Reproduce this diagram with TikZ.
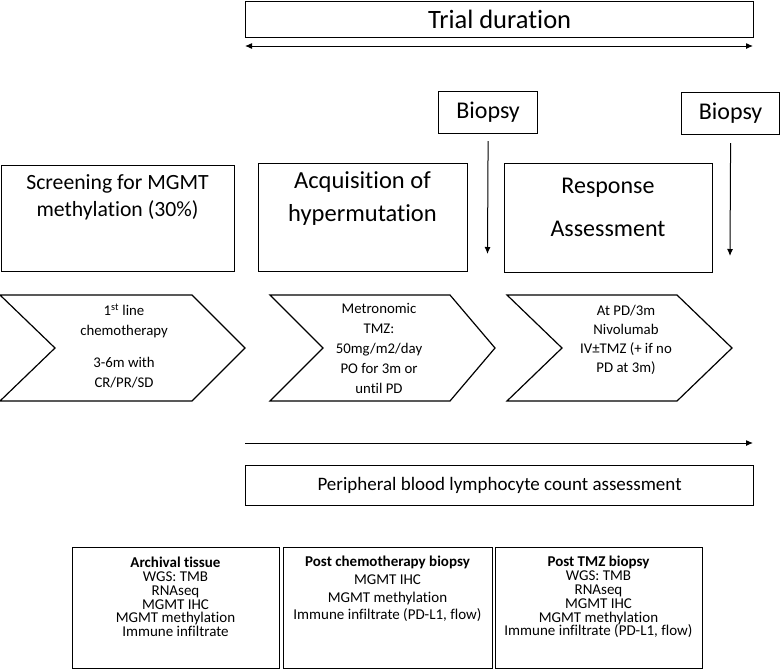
\documentclass[tikz,border=0pt]{standalone}
\usepackage{fontspec}
\setmainfont{Carlito}[Ligatures={NoCommon,NoContextual},Contextuals={NoAlternate}]
\usetikzlibrary{arrows.meta}
\begin{document}
\begin{tikzpicture}[x=1pt,y=-1pt,
  frame/.style={draw, line width=1.2pt, inner sep=0pt, anchor=north west},
  thinline/.style={line width=1pt},
  arr/.style={thinline, -{Latex[length=7pt,width=6pt]}},
  dblarr/.style={thinline, {Latex[length=7pt,width=6pt]}-{Latex[length=7pt,width=6pt]}},
  chev/.style={draw, line width=1.2pt, line join=miter},
  chevtext/.style={align=center, font=\fontsize{14.8}{20}\selectfont, inner sep=0pt},
  smalltext/.style={align=center, inner sep=0pt}]
\useasboundingbox (0,0) rectangle (780,670);

% Trial duration
\node[frame, minimum width=508pt, minimum height=36pt, font=\fontsize{26.5}{30}\selectfont] (trial) at (245,1) {Trial duration};
\coordinate (tl) at (245,46);
\coordinate (tr) at (753,46);
\draw[dblarr] (tl) -- (tr);

% Biopsy boxes
\node[frame, minimum width=99pt, minimum height=42pt, font=\fontsize{24}{28}\selectfont] (bio1) at (438,91) {Biopsy};
\node[frame, minimum width=98pt, minimum height=42pt, font=\fontsize{24}{28}\selectfont] (bio2) at (681,92) {Biopsy};
\coordinate (b1e) at (487.5,254);
\coordinate (b2e) at (730,256);
\draw[arr] ([yshift=-7pt]bio1.south) -- (b1e);
\draw[arr] ([yshift=-8pt]bio2.south) -- (b2e);

% Phase boxes
\node[frame, minimum width=233pt, minimum height=106pt] (scr) at (1,165) {};
\node[frame, minimum width=209pt, minimum height=108pt] (acq) at (258,163) {};
\node[frame, minimum width=208pt, minimum height=109pt] (resp) at (504,163) {};
\node[align=center, inner sep=0pt, font=\fontsize{21.7}{27}\selectfont] (scrt) at (117.5,197) {Screening for MGMT\\methylation (30\%)};
\node[align=center, inner sep=0pt, font=\fontsize{24.5}{33}\selectfont] (acqt) at (362.5,199) {Acquisition of\\hypermutation};
\node[align=center, inner sep=0pt, font=\fontsize{24}{29}\selectfont] (respt) at (608,207) {Response\\[14pt]Assessment};

% Chevrons
\draw[chev] (0,295) -- (192,295) -- (245,348) -- (192,401) -- (0,401) -- (55,348) -- cycle;
\draw[chev] (270,295) -- (450,295) -- (495,348) -- (450,401) -- (270,401) -- (323,348) -- cycle;
\draw[chev] (507,295) -- (677,295) -- (732,348) -- (677,401) -- (507,401) -- (562,348) -- cycle;
\node[chevtext] (c1t) at (124,346) {1\textsuperscript{st} line\\chemotherapy\\[12pt]3-6m with\\CR/PR/SD};
\node[chevtext] (c2t) at (379,348) {Metronomic\\TMZ:\\50mg/m2/day\\PO for 3m or\\until PD};
\node[chevtext, font=\fontsize{14.8}{19}\selectfont] (c3t) at (626,340) {At PD/3m\\Nivolumab\\IV±TMZ (+ if no\\PD at 3m)};

% Blood arrow and box
\coordinate (pl) at (245,443);
\coordinate (pr) at (753,443);
\draw[arr] (pl) -- (pr);
\node[frame, minimum width=508pt, minimum height=40pt, font=\fontsize{19}{23}\selectfont] (pbl) at (245,465) {Peripheral blood lymphocyte count assessment};

% Bottom boxes
\node[frame, minimum width=207pt, minimum height=121pt] (arch) at (72,547) {};
\node[frame, minimum width=209pt, minimum height=121pt] (post) at (283,547) {};
\node[frame, minimum width=207pt, minimum height=121pt] (ptmz) at (495,547) {};
\node[smalltext, font=\fontsize{15}{13.8}\selectfont] (archt) at (175.5,597) {\textbf{Archival tissue}\\WGS: TMB\\RNAseq\\MGMT IHC\\MGMT methylation\\Immune infiltrate};
\node[smalltext, font=\fontsize{15}{17.8}\selectfont] (postt) at (387.5,589) {\textbf{Post chemotherapy biopsy}\\MGMT IHC\\MGMT methylation\\Immune infiltrate (PD-L1, flow)};
\node[smalltext, font=\fontsize{15}{13.9}\selectfont] (ptmzt) at (598.5,597) {\textbf{Post TMZ biopsy}\\WGS: TMB\\RNAseq\\MGMT IHC\\MGMT methylation\\Immune infiltrate (PD-L1, flow)};
\end{tikzpicture}
\end{document}
